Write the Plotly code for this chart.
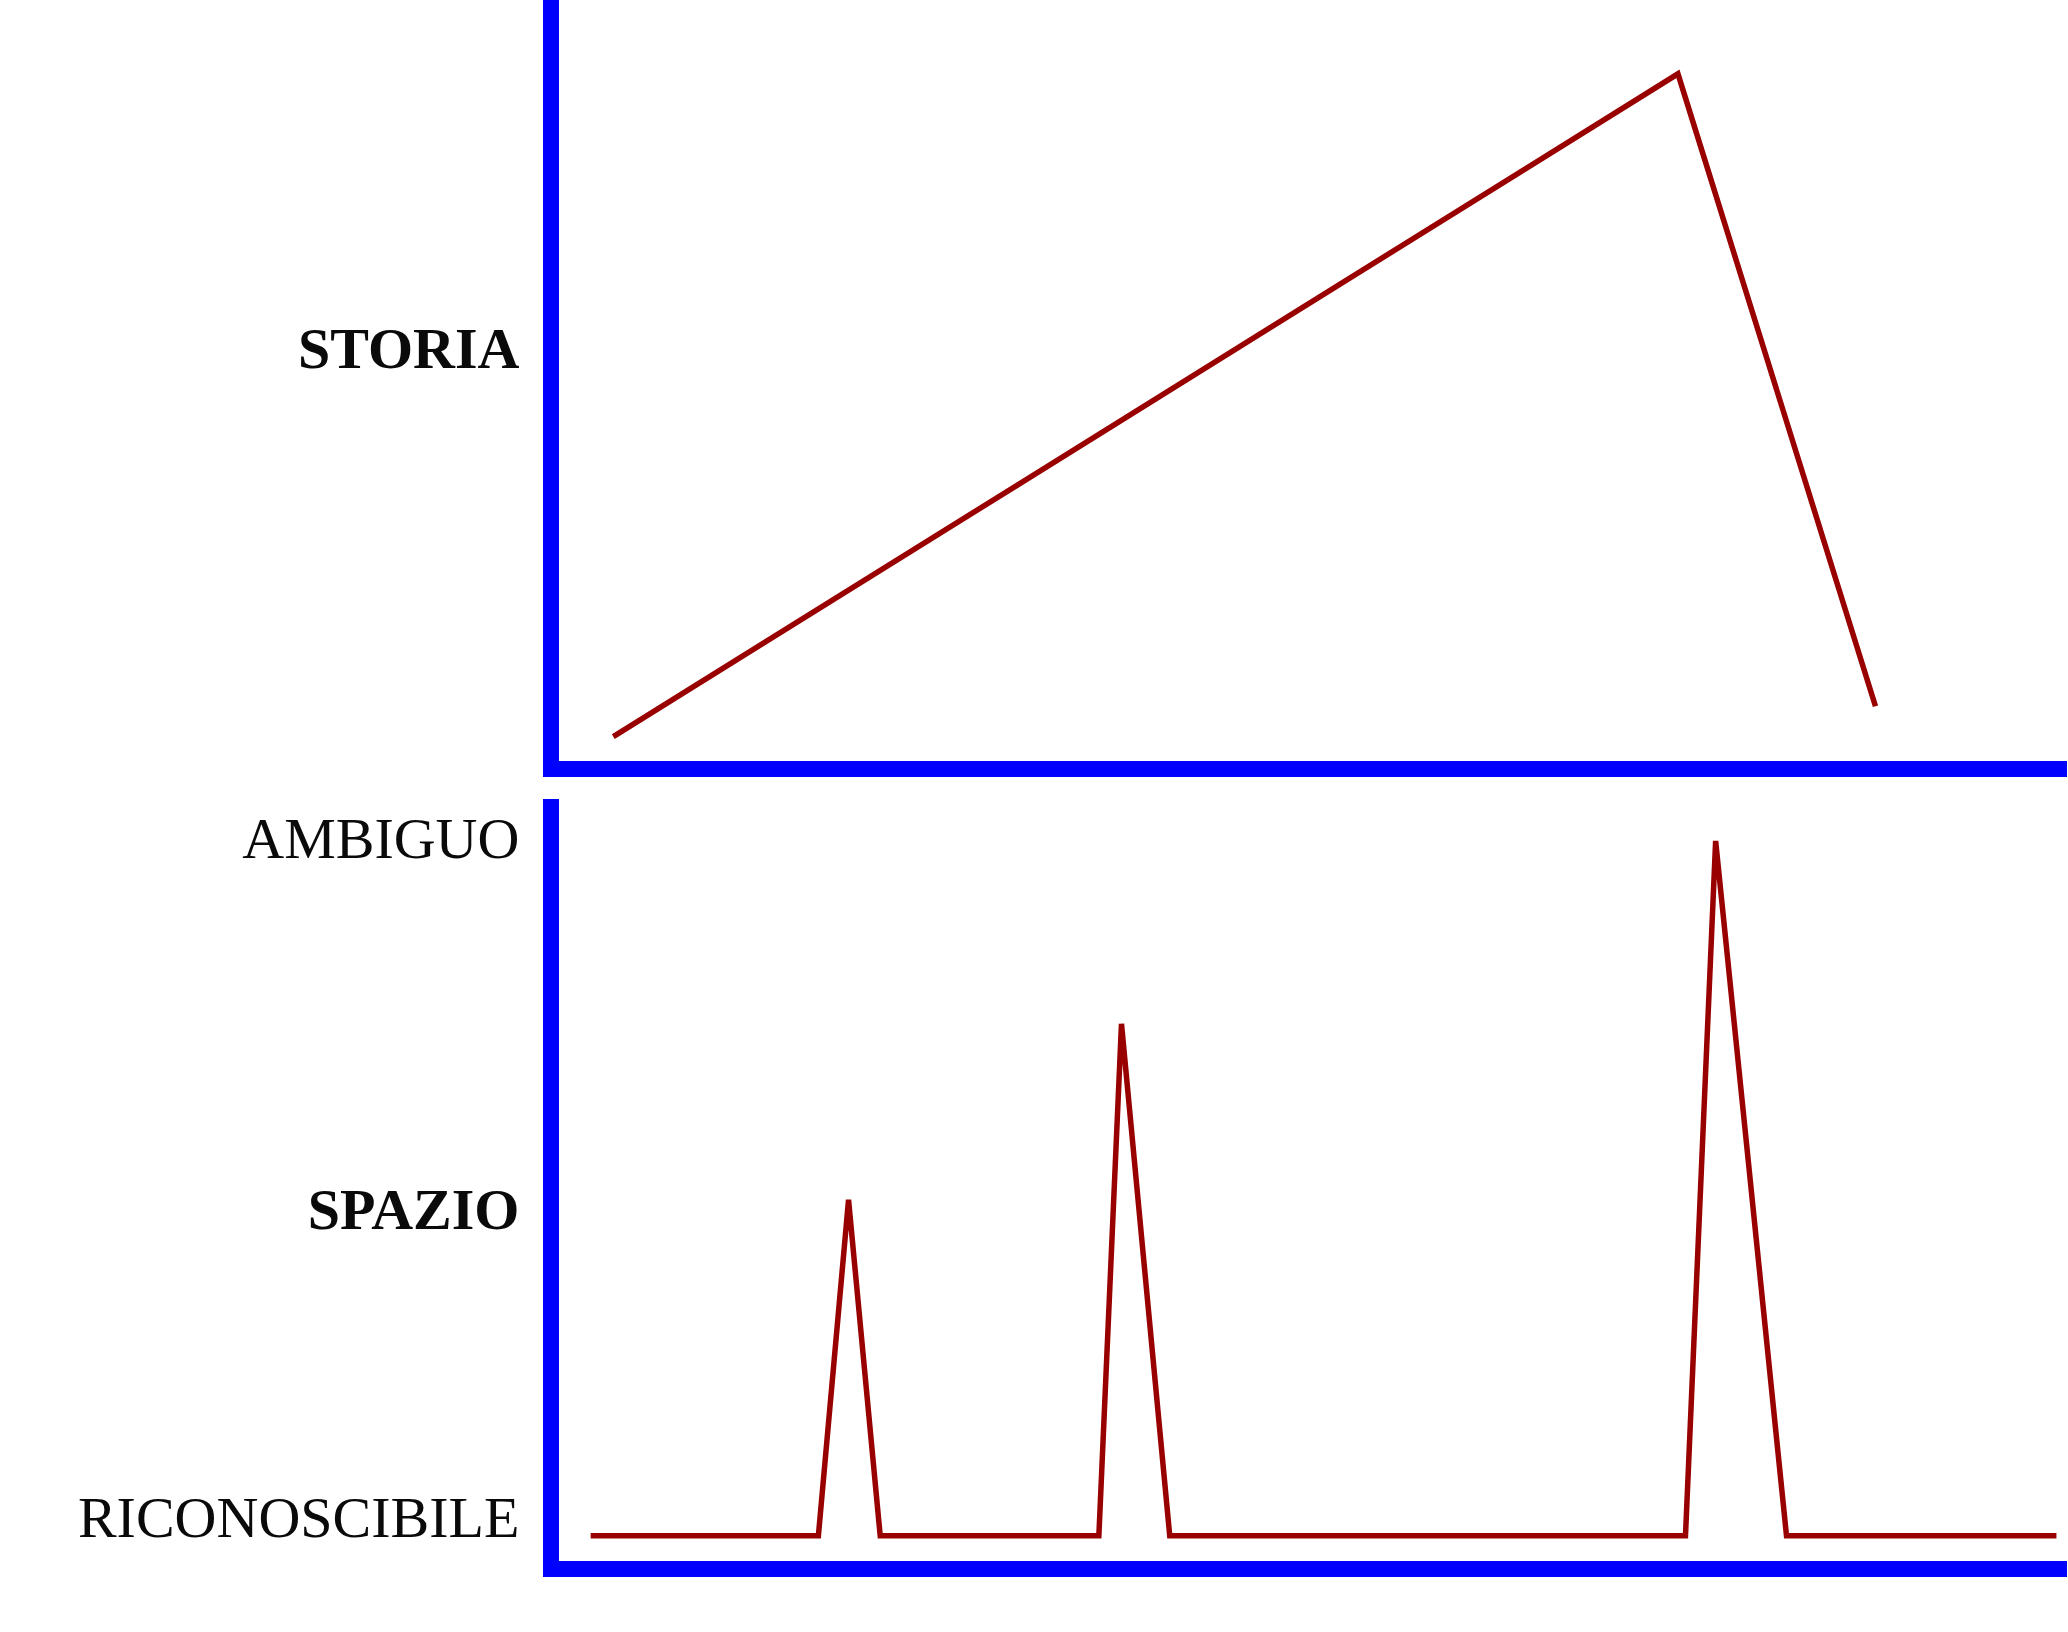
import plotly.graph_objects as go

# Top panel (STORIA)
storia_x = [3.6, 74.2, 87.3]
storia_y = [3.2, 90.3, 7.2]

# Bottom panel (SPAZIO)
spazio_x = [2.1, 17.2, 19.2, 21.3, 35.8, 37.3, 40.5, 74.7, 76.7, 81.4, 99.3]
spazio_y = [3.3, 3.3, 47.4, 3.3, 3.3, 70.5, 3.3, 3.3, 94.5, 3.3, 3.3]

top_tickvals = [54.3]
top_ticktext = ["<b>STORIA</b>"]
bot_tickvals = [5.8, 46.2, 94.9]
bot_ticktext = ["RICONOSCIBILE", "<b>SPAZIO</b>", "AMBIGUO"]

RED = "#990000"
BLUE = "#0000ff"
FONT = dict(family="Liberation Serif", size=58, color="#0a0a0a")

fig = go.Figure()
fig.add_trace(go.Scatter(x=storia_x, y=storia_y, mode="lines",
                         line=dict(color=RED, width=5.5), xaxis="x", yaxis="y",
                         showlegend=False, hoverinfo="skip"))
fig.add_trace(go.Scatter(x=spazio_x, y=spazio_y, mode="lines",
                         line=dict(color=RED, width=5.5), xaxis="x2", yaxis="y2",
                         showlegend=False, hoverinfo="skip"))

axis_common = dict(showgrid=False, zeroline=False, showline=True,
                   linecolor=BLUE, linewidth=16, ticks="", fixedrange=True)

fig.update_layout(
    width=2068, height=1632,
    margin=dict(l=559, r=1, t=0, b=71),
    paper_bgcolor="white", plot_bgcolor="white",
    font=FONT,
    xaxis=dict(domain=[0, 1], range=[0, 100], anchor="y", showticklabels=False, **axis_common),
    yaxis=dict(domain=[0.5125, 1], range=[0, 100], anchor="x", ticklabelstandoff=12,
               tickvals=top_tickvals, ticktext=top_ticktext, tickfont=FONT, **axis_common),
    xaxis2=dict(domain=[0, 1], range=[0, 100], anchor="y2", showticklabels=False, **axis_common),
    yaxis2=dict(domain=[0, 0.4881], range=[0, 100], anchor="x2", ticklabelstandoff=12,
                tickvals=bot_tickvals, ticktext=bot_ticktext, tickfont=FONT, **axis_common),
)

fig.write_html("out.html", config={"displayModeBar": False},
               post_script="document.body.style.margin='0';document.body.style.overflow='hidden';")
